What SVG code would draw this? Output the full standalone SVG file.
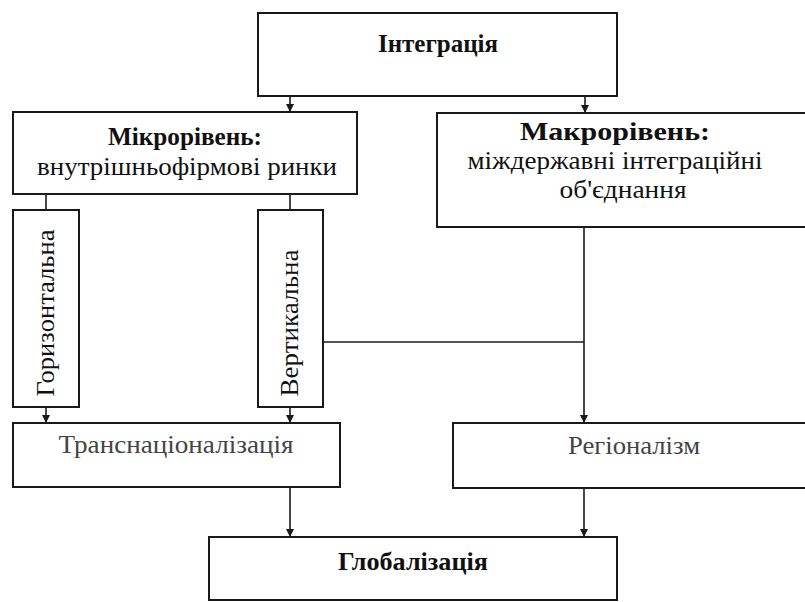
<svg xmlns="http://www.w3.org/2000/svg" width="805" height="602" viewBox="0 0 805 602">
  <style>
    .box { fill: #ffffff; stroke: #1a1a1a; stroke-width: 2; }
    .link { fill: none; stroke: #1a1a1a; stroke-width: 1.6; }
    .t { font-family: "Liberation Serif", "DejaVu Serif", serif; fill: #111111; text-anchor: middle; font-size: 26px; }
    .b { font-weight: bold; }
    .thin { fill: #444444; }
  </style>
  <defs>
    <marker id="arrow" viewBox="0 0 10 10" refX="10" refY="5" markerWidth="8" markerHeight="8" markerUnits="userSpaceOnUse" orient="auto">
      <path d="M0,0 L10,5 L0,10 z" fill="#1a1a1a"/>
    </marker>
  </defs>
  <rect width="805" height="602" fill="#ffffff"/>

  <g id="connectors">
    <line class="link" x1="290" y1="96" x2="290" y2="112" marker-end="url(#arrow)"/>
    <line class="link" x1="585" y1="96" x2="585" y2="113" marker-end="url(#arrow)"/>
    <line class="link" x1="46" y1="194" x2="46" y2="210"/>
    <line class="link" x1="290" y1="194" x2="290" y2="210"/>
    <line class="link" x1="46" y1="407" x2="46" y2="423" marker-end="url(#arrow)"/>
    <line class="link" x1="290" y1="407" x2="290" y2="423" marker-end="url(#arrow)"/>
    <line class="link" x1="323" y1="342" x2="584" y2="342"/>
    <line class="link" x1="584" y1="227" x2="584" y2="423" marker-end="url(#arrow)"/>
    <line class="link" x1="290" y1="487" x2="290" y2="537" marker-end="url(#arrow)"/>
    <line class="link" x1="584" y1="488" x2="584" y2="537" marker-end="url(#arrow)"/>
  </g>

  <g id="integration">
    <rect class="box" x="258" y="13" width="359" height="83"/>
    <text class="t b" x="438" y="52" font-size="24" textLength="120" lengthAdjust="spacingAndGlyphs">Інтеграція</text>
  </g>

  <g id="micro">
    <rect class="box" x="13" y="112" width="344" height="82"/>
    <text class="t b" x="185" y="145" textLength="154" lengthAdjust="spacingAndGlyphs">Мікрорівень:</text>
    <text class="t" x="187" y="175" textLength="300" lengthAdjust="spacingAndGlyphs">внутрішньофірмові ринки</text>
  </g>

  <g id="macro">
    <rect class="box" x="437" y="113" width="380" height="114"/>
    <text class="t b" x="615" y="140" textLength="190" lengthAdjust="spacingAndGlyphs">Макрорівень:</text>
    <text class="t" x="615" y="169" textLength="295" lengthAdjust="spacingAndGlyphs">міждержавні інтеграційні</text>
    <text class="t" x="623" y="198" textLength="127" lengthAdjust="spacingAndGlyphs">об'єднання</text>
  </g>

  <g id="horizontal">
    <rect class="box" x="13" y="210" width="66" height="197"/>
    <text class="t" transform="translate(54 313) rotate(-90)" textLength="167" lengthAdjust="spacingAndGlyphs">Горизонтальна</text>
  </g>

  <g id="vertical">
    <rect class="box" x="258" y="210" width="65" height="197"/>
    <text class="t" transform="translate(298 323) rotate(-90)" textLength="147" lengthAdjust="spacingAndGlyphs">Вертикальна</text>
  </g>

  <g id="transnationalization">
    <rect class="box" x="13" y="423" width="327" height="64"/>
    <text class="t thin" x="176" y="453" textLength="235" lengthAdjust="spacingAndGlyphs">Транснаціоналізація</text>
  </g>

  <g id="regionalism">
    <rect class="box" x="453" y="423" width="364" height="65"/>
    <text class="t thin" x="634" y="454" textLength="132" lengthAdjust="spacingAndGlyphs">Регіоналізм</text>
  </g>

  <g id="globalization">
    <rect class="box" x="209" y="537" width="408" height="63"/>
    <text class="t b" x="413" y="570" textLength="150" lengthAdjust="spacingAndGlyphs">Глобалізація</text>
  </g>
</svg>
